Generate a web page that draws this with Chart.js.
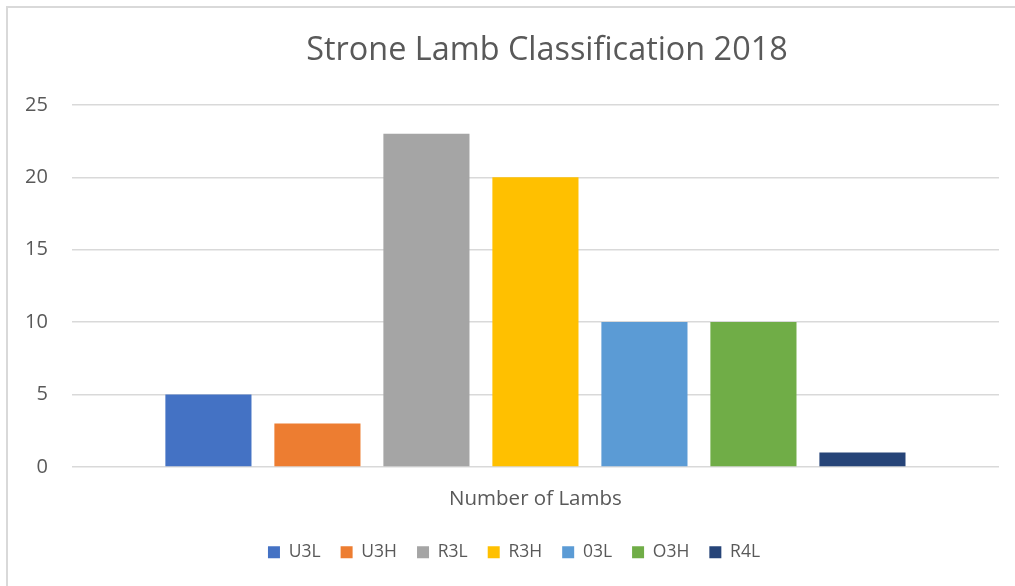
<!DOCTYPE html>
<html>
<head>
<meta charset="utf-8">
<script src="https://cdn.jsdelivr.net/npm/chart.js@4"></script>
<style>
  html, body { margin: 0; padding: 0; background: #fff; }
  #frame { position: absolute; left: 6px; top: 6px; width: 1100px; height: 700px;
           border-left: 2px solid #d9d9d9; border-top: 2px solid #d9d9d9; }
  #wrap { position: absolute; left: 0; top: 0; width: 1015px; height: 586px; }
</style>
</head>
<body>
<div id="frame"></div>
<div id="wrap"><canvas id="chart"></canvas></div>
<script>
// ---- data ----
const categories = ['Number of Lambs'];
const seriesNames = ['U3L', 'U3H', 'R3L', 'R3H', '03L', 'O3H', 'R4L'];
const seriesValues = [5, 3, 23, 20, 10, 10, 1];
const seriesColors = ['#4472C4', '#ED7D31', '#A5A5A5', '#FFC000', '#5B9BD5', '#70AD47', '#264478'];
const yTicks = [0, 5, 10, 15, 20, 25];

const FONT = "'Open Sans', 'Liberation Sans', sans-serif";
const TEXT = '#595959';
const GRID = '#d9d9d9';

const datasets = seriesNames.map((name, i) => ({
    label: name,
    data: [seriesValues[i]],
    backgroundColor: seriesColors[i],
    borderWidth: 0,
    barPercentage: 0.79,
    categoryPercentage: 0.823
}));

// Excel places the title and legend slightly right of the canvas centre
const shiftBlocks = {
    id: 'shiftBlocks',
    afterLayout(chart) {
        const t = chart.titleBlock;
        t.left += 47; t.right += 47;
        const l = chart.legend;
        l.left += 14; l.right += 14;
    }
};

new Chart(document.getElementById('chart'), {
    type: 'bar',
    data: { labels: categories, datasets: datasets },
    plugins: [shiftBlocks],
    options: {
        responsive: true,
        maintainAspectRatio: false,
        animation: false,
        layout: { padding: { left: 1, right: 16, top: 31, bottom: 15 } },
        scales: {
            x: {
                grid: { display: false },
                border: { display: false },
                ticks: { color: TEXT, font: { family: FONT, size: 20.5 }, padding: 12 }
            },
            y: {
                min: yTicks[0],
                max: yTicks[yTicks.length - 1],
                afterBuildTicks: axis => { axis.ticks = yTicks.map(v => ({ value: v })); },
                grid: { color: GRID, lineWidth: 1.5, drawTicks: false },
                border: { display: false },
                ticks: { color: TEXT, font: { family: FONT, size: 20 }, padding: 24 }
            }
        },
        plugins: {
            title: {
                display: true,
                text: 'Strone Lamb Classification 2018',
                color: TEXT,
                font: { family: FONT, size: 32.4, weight: 'normal' },
                padding: { top: 0, bottom: 35 }
            },
            legend: {
                position: 'bottom',
                labels: {
                    color: TEXT,
                    font: { family: FONT, size: 17.5 },
                    boxWidth: 12,
                    boxHeight: 12,
                    padding: 20
                }
            },
            tooltip: { enabled: false }
        }
    }
});
</script>
</body>
</html>
